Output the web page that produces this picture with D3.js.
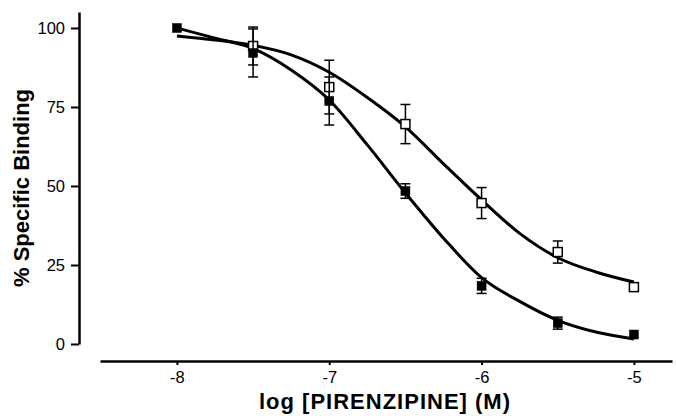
<!DOCTYPE html>
<html>
<head>
<meta charset="utf-8">
<script src="https://cdn.jsdelivr.net/npm/d3@7"></script>
<style>
  body { margin: 0; background: #fff; }
  text { font-family: "Liberation Sans", Arial, sans-serif; fill: #000; }
</style>
</head>
<body>
<div id="chart"></div>
<script>
// measured points (log M) and % specific binding
var doses = [-8, -7.5, -7, -6.5, -6, -5.5, -5];
var filledMean = [100, 92.1, 76.9, 48.4, 18.4, 6.6, 3.0];
var filledErr = [0, 7.6, 7.6, 2.3, 2.4, 1.9, 0];

var openDoses = [-7.5, -7, -6.5, -6, -5.5, -5];
var openMean = [94.3, 81.3, 69.6, 44.6, 29.1, 18.0];
var openErr = [6.0, 8.5, 6.2, 4.9, 3.5, 0];

// fitted curves
var curveX = [-8, -7.75, -7.5, -7.25, -7, -6.75, -6.5, -6.25, -6, -5.75, -5.5, -5.25, -5];
var filledCurve = [100, 96.8, 93.5, 86.7, 77.2, 63, 47.8, 33.5, 21, 13.5, 7.5, 3.8, 1.6];
var openCurve = [97.5, 96.2, 94.5, 91.5, 86, 78, 68.7, 57, 45.6, 35, 27.3, 22.8, 19.6];

var xTicks = [-8, -7, -6, -5];
var yTicks = [0, 25, 50, 75, 100];

var svgWidth = 676;
var svgHeight = 416;

var svg = d3.select("#chart")
  .append("svg")
  .attr("width", svgWidth)
  .attr("height", svgHeight);

// scales
var xScale = d3.scaleLinear()
  .domain([-8.505, -4.75])
  .range([100, 672]);

var yScale = d3.scaleLinear()
  .domain([0, 105.06])
  .range([344, 12]);

// axes
var bottomAxis = d3.axisBottom(xScale)
  .tickValues(xTicks)
  .tickSize(4)
  .tickSizeOuter(0)
  .tickPadding(6)
  .tickFormat(d3.format("d"));

var leftAxis = d3.axisLeft(yScale)
  .tickValues(yTicks)
  .tickSize(8)
  .tickSizeOuter(0)
  .tickPadding(6);

var xAxis = svg.append("g")
  .attr("transform", "translate(0, 361)")
  .call(bottomAxis);

var yAxis = svg.append("g")
  .attr("transform", "translate(79, 0)")
  .call(leftAxis);

[xAxis, yAxis].forEach(function(ax) {
  ax.select(".domain").attr("stroke", "#000").attr("stroke-width", 2.5);
  ax.selectAll(".tick line").attr("stroke", "#000").attr("stroke-width", 2);
  ax.selectAll(".tick text")
    .attr("font-size", "16.5px")
    .attr("font-family", "Liberation Sans, Arial, sans-serif")
    .attr("fill", "#000");
});
xAxis.selectAll(".tick text").text(function(d) { return "-" + Math.abs(d); });

// axis titles
svg.append("text")
  .attr("x", 385)
  .attr("y", 409)
  .attr("text-anchor", "middle")
  .attr("font-size", "22px")
  .attr("font-weight", "bold")
  .attr("letter-spacing", "1px")
  .text("log [PIRENZIPINE] (M)");

svg.append("text")
  .attr("transform", "translate(29, 188) rotate(-90)")
  .attr("text-anchor", "middle")
  .attr("font-size", "22px")
  .attr("font-weight", "bold")
  .text("% Specific Binding");

// fitted curves
var line = d3.line()
  .x(function(d) { return xScale(d[0]); })
  .y(function(d) { return yScale(d[1]); })
  .curve(d3.curveMonotoneX);

svg.append("path")
  .datum(d3.zip(curveX, openCurve))
  .attr("d", line)
  .attr("fill", "none")
  .attr("stroke", "#000")
  .attr("stroke-width", 3);

svg.append("path")
  .datum(d3.zip(curveX, filledCurve))
  .attr("d", line)
  .attr("fill", "none")
  .attr("stroke", "#000")
  .attr("stroke-width", 3);

// error bars + markers
function drawSeries(xs, means, errs, filled) {
  var data = xs.map(function(x, i) { return { x: x, m: means[i], e: errs[i] }; });
  var g = svg.append("g");
  var bars = g.selectAll(".err")
    .data(data.filter(function(d) { return d.e > 0; }))
    .enter()
    .append("g");
  bars.append("line")
    .attr("x1", function(d) { return xScale(d.x); })
    .attr("x2", function(d) { return xScale(d.x); })
    .attr("y1", function(d) { return yScale(d.m + d.e); })
    .attr("y2", function(d) { return yScale(d.m - d.e); })
    .attr("stroke", "#000")
    .attr("stroke-width", 1.5);
  [1, -1].forEach(function(sign) {
    bars.append("line")
      .attr("x1", function(d) { return xScale(d.x) - 5; })
      .attr("x2", function(d) { return xScale(d.x) + 5; })
      .attr("y1", function(d) { return yScale(d.m + sign * d.e); })
      .attr("y2", function(d) { return yScale(d.m + sign * d.e); })
      .attr("stroke", "#000")
      .attr("stroke-width", 1.5);
  });
  g.selectAll(".pt")
    .data(data)
    .enter()
    .append("rect")
    .attr("x", function(d) { return xScale(d.x) - 4.5; })
    .attr("y", function(d) { return yScale(d.m) - 4.5; })
    .attr("width", 9)
    .attr("height", 9)
    .attr("fill", filled ? "#000" : "#fff")
    .attr("stroke", "#000")
    .attr("stroke-width", filled ? 0.5 : 1.5);
}

drawSeries(openDoses, openMean, openErr, false);
drawSeries(doses, filledMean, filledErr, true);
</script>
</body>
</html>
